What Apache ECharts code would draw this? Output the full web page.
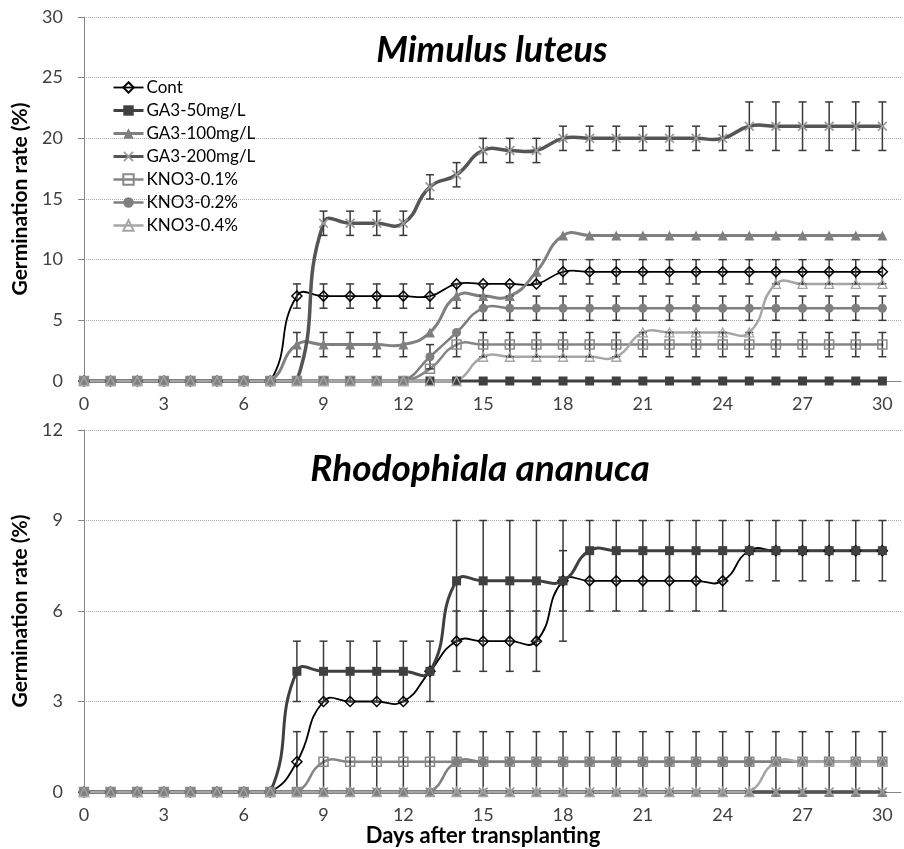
<!DOCTYPE html>
<html><head><meta charset="utf-8">
<script src="https://cdn.jsdelivr.net/npm/echarts@6/dist/echarts.min.js"></script>
<style>html,body{margin:0;padding:0;background:#fff}#c{width:904px;height:849px}</style>
</head><body><div id="c"></div>
<script>
// ---- data ----
const days = [0,1,2,3,4,5,6,7,8,9,10,11,12,13,14,15,16,17,18,19,20,21,22,23,24,25,26,27,28,29,30];
const seriesNames = ['Cont','GA3-50mg/L','GA3-100mg/L','GA3-200mg/L','KNO3-0.1%','KNO3-0.2%','KNO3-0.4%'];
const chartTitles = ['Mimulus luteus','Rhodophiala ananuca'];
const xTitle = 'Days after transplanting';
const yTitle = 'Germination rate (%)';

// Mimulus luteus (top)
const contM  = [0,0,0,0,0,0,0,0,7,7,7,7,7,7,8,8,8,8,9,9,9,9,9,9,9,9,9,9,9,9,9];
const ga50M  = [0,0,0,0,0,0,0,0,0,0,0,0,0,0,0,0,0,0,0,0,0,0,0,0,0,0,0,0,0,0,0];
const ga100M = [0,0,0,0,0,0,0,0,3,3,3,3,3,4,7,7,7,9,12,12,12,12,12,12,12,12,12,12,12,12,12];
const ga200M = [0,0,0,0,0,0,0,0,0,13,13,13,13,16,17,19,19,19,20,20,20,20,20,20,20,21,21,21,21,21,21];
const kno1M  = [0,0,0,0,0,0,0,0,0,0,0,0,0,1,3,3,3,3,3,3,3,3,3,3,3,3,3,3,3,3,3];
const kno2M  = [0,0,0,0,0,0,0,0,0,0,0,0,0,2,4,6,6,6,6,6,6,6,6,6,6,6,6,6,6,6,6];
const kno4M  = [0,0,0,0,0,0,0,0,0,0,0,0,0,0,0,2,2,2,2,2,2,4,4,4,4,4,8,8,8,8,8];
// error bars (null = none)
const contErrM  = [null,null,null,null,null,null,null,null,1,1,1,1,1,1,null,null,null,null,1,1,1,1,1,1,1,1,1,1,1,1,1];
const ga100ErrM = [null,null,null,null,null,null,null,null,1,1,1,1,1,null,1,1,1,1,null,null,null,null,null,null,null,null,null,null,null,null,null];
const ga200ErrM = [null,null,null,null,null,null,null,null,null,1,1,1,1,1,1,1,1,1,1,1,1,1,1,1,1,2,2,2,2,2,2];
const kno1ErrM  = [null,null,null,null,null,null,null,null,null,null,null,null,null,null,1,1,1,1,1,1,1,1,1,1,1,1,1,1,1,1,1];
const kno2ErrM  = [null,null,null,null,null,null,null,null,null,null,null,null,null,1,null,1,1,1,1,1,1,1,1,1,1,1,1,1,1,1,1];

// Rhodophiala ananuca (bottom)
const contR  = [0,0,0,0,0,0,0,0,1,3,3,3,3,4,5,5,5,5,7,7,7,7,7,7,7,8,8,8,8,8,8];
const ga50R  = [0,0,0,0,0,0,0,0,4,4,4,4,4,4,7,7,7,7,7,8,8,8,8,8,8,8,8,8,8,8,8];
const ga100R = [0,0,0,0,0,0,0,0,0,0,0,0,0,0,0,0,0,0,0,0,0,0,0,0,0,0,0,0,0,0,0];
const ga200R = [0,0,0,0,0,0,0,0,0,0,0,0,0,0,0,0,0,0,0,0,0,0,0,0,0,0,0,0,0,0,0];
const kno1R  = [0,0,0,0,0,0,0,0,0,1,1,1,1,1,1,1,1,1,1,1,1,1,1,1,1,1,1,1,1,1,1];
const kno2R  = [0,0,0,0,0,0,0,0,0,0,0,0,0,0,1,1,1,1,1,1,1,1,1,1,1,1,1,1,1,1,1];
const kno4R  = [0,0,0,0,0,0,0,0,0,0,0,0,0,0,0,0,0,0,0,0,0,0,0,0,0,0,1,1,1,1,1];
const contErrR = [null,null,null,null,null,null,null,null,1,null,null,null,null,null,1,1,1,1,1,1,1,1,1,1,1,null,null,null,null,null,null];
const ga50ErrR = [null,null,null,null,null,null,null,null,1,1,1,1,1,1,2,2,2,2,2,1,1,1,1,1,1,1,1,1,1,1,1];
const kno1ErrR = [null,null,null,null,null,null,null,null,null,1,1,1,1,1,1,1,1,1,1,1,1,1,1,1,1,1,1,1,1,1,1];

// ---- styles ----
const FONT = 'Lato';
const NOFILL = 'rgba(255,255,255,0)';
const xPath = 'path://M0,1.2 L1.2,0 L5,3.8 L8.8,0 L10,1.2 L6.2,5 L10,8.8 L8.8,10 L5,6.2 L1.2,10 L0,8.8 L3.8,5 Z';
const styles = [
  {symbol:'diamond', size:10, line:'#000000', lw:1.8, fill:NOFILL, border:'#000000', bw:1.5},
  {symbol:'rect', size:9, line:'#404040', lw:3, fill:'#404040', border:'#404040', bw:0},
  {symbol:'triangle', size:10, line:'#808080', lw:3, fill:'#7f7f7f', border:'#7f7f7f', bw:0},
  {symbol:xPath, size:10, line:'#555555', lw:3.5, fill:'#9a9a9a', border:'#9a9a9a', bw:0},
  {symbol:'rect', size:9, line:'#858585', lw:2.5, fill:NOFILL, border:'#8a8a8a', bw:1.5},
  {symbol:'circle', size:9, line:'#7f7f7f', lw:2.5, fill:'#7f7f7f', border:'#7f7f7f', bw:0},
  {symbol:'triangle', size:9, line:'#a6a6a6', lw:2.5, fill:NOFILL, border:'#a6a6a6', bw:1.3}
];
const TENSION = 0.5;

// markers (line series, its own line hidden) + legend entry
function markerSeries(idx, values, g) {
  const s = styles[idx];
  return {
    type:'line', name: seriesNames[idx], xAxisIndex:g, yAxisIndex:g,
    data: days.map((d,i)=>[d, values[i]]),
    symbol:s.symbol, symbolSize:s.size, showAllSymbol:true,
    lineStyle:{color:s.line, width:0, opacity:0},
    itemStyle:{color:s.fill, borderColor:s.border, borderWidth:s.bw},
    z:4, silent:true
  };
}
// smoothed connecting line (length-weighted cardinal spline, like the spreadsheet's smoothing)
function curveSeries(idx, values, g) {
  const s = styles[idx];
  const n = values.length;
  return {
    type:'custom', xAxisIndex:g, yAxisIndex:g, z:2, silent:true,
    data: days.map((d,i)=>[d, values[i]]),
    renderItem:(params, api)=>{
      const i = params.dataIndexInside;
      if (i >= n - 1) return null;
      const P = k => api.coord([api.value(0, k), api.value(1, k)]);
      const floorY = api.coord([0, 0])[1];
      function cps(k) {
        const pk = P(k);
        const pp = k > 0 ? P(k-1) : pk;
        const pn = k < n - 1 ? P(k+1) : pk;
        const vx = pn[0]-pp[0], vy = pn[1]-pp[1];
        const dP = Math.hypot(pk[0]-pp[0], pk[1]-pp[1]);
        const dN = Math.hypot(pn[0]-pk[0], pn[1]-pk[1]);
        const sum = dP + dN || 1;
        return {
          inn:[pk[0] - vx*TENSION*dP/sum, Math.min(floorY, pk[1] - vy*TENSION*dP/sum)],
          out:[pk[0] + vx*TENSION*dN/sum, Math.min(floorY, pk[1] + vy*TENSION*dN/sum)]
        };
      }
      const p1 = P(i), p2 = P(i+1);
      const c1 = cps(i).out, c2 = cps(i+1).inn;
      return {type:'bezierCurve', shape:{
          x1:p1[0], y1:p1[1], x2:p2[0], y2:p2[1],
          cpx1:c1[0], cpy1:c1[1], cpx2:c2[0], cpy2:c2[1]},
        style:{stroke:s.line, lineWidth:s.lw, fill:null, lineCap:'round'}};
    }
  };
}
function errSeries(values, errs, g) {
  const data = [];
  days.forEach((d,i)=>{ if (errs[i] != null) data.push([d, values[i]-errs[i], values[i]+errs[i]]); });
  return {
    type:'custom', xAxisIndex:g, yAxisIndex:g, data, z:3, silent:true,
    renderItem:(params, api)=>{
      const lo = api.coord([api.value(0), api.value(1)]);
      const hi = api.coord([api.value(0), api.value(2)]);
      const w = 4;
      const st = {stroke:'#3a3a3a', lineWidth:1.5};
      return {type:'group', children:[
        {type:'line', shape:{x1:lo[0], y1:lo[1], x2:hi[0], y2:hi[1]}, style:st},
        {type:'line', shape:{x1:lo[0]-w, y1:lo[1], x2:lo[0]+w, y2:lo[1]}, style:st},
        {type:'line', shape:{x1:hi[0]-w, y1:hi[1], x2:hi[0]+w, y2:hi[1]}, style:st}
      ]};
    }
  };
}

const chart = echarts.init(document.getElementById('c'));
const axisCol = '#868686';
function xAxisCfg(g) {
  return {type:'value', gridIndex:g, min:0, max:30.7, interval:3,
    axisLine:{show:true, onZero:false, lineStyle:{color:axisCol, width:1}},
    axisTick:{show:false}, splitLine:{show:false},
    axisLabel:{margin:14, fontSize:18, color:'#404040', fontFamily:FONT,
      formatter:(v)=> (Math.abs(v % 3) < 1e-9 ? String(v) : '')}};
}
function yAxisCfg(g, max, interval) {
  return {type:'value', gridIndex:g, min:0, max, interval,
    name: yTitle, nameLocation:'middle', nameGap:51,
    nameTextStyle:{fontSize:21, fontWeight:'bold', color:'#000', fontFamily:FONT},
    axisLine:{show:true, lineStyle:{color:axisCol, width:1}},
    axisTick:{show:true, length:6, lineStyle:{color:axisCol}},
    splitLine:{show:true, lineStyle:{color:'#a8a8a8', type:'dotted', width:1}},
    axisLabel:{margin:21, fontSize:18, color:'#404040', fontFamily:FONT}};
}

const tops = [contM, ga50M, ga100M, ga200M, kno1M, kno2M, kno4M];
const bots = [contR, ga50R, ga100R, ga200R, kno1R, kno2R, kno4R];
const series = [];
tops.forEach((v,i)=>series.push(curveSeries(i, v, 0)));
series.push(errSeries(contM, contErrM, 0), errSeries(ga100M, ga100ErrM, 0), errSeries(ga200M, ga200ErrM, 0),
  errSeries(kno1M, kno1ErrM, 0), errSeries(kno2M, kno2ErrM, 0));
tops.forEach((v,i)=>series.push(markerSeries(i, v, 0)));
bots.forEach((v,i)=>series.push(curveSeries(i, v, 1)));
series.push(errSeries(contR, contErrR, 1), errSeries(ga50R, ga50ErrR, 1), errSeries(kno1R, kno1ErrR, 1));
bots.forEach((v,i)=>series.push(markerSeries(i, v, 1)));

chart.setOption({
  animation:false,
  backgroundColor:'#ffffff',
  grid:[
    {left:84, top:17, width:820, height:364},
    {left:84, top:430, width:820, height:362}
  ],
  xAxis:[xAxisCfg(0), xAxisCfg(1)],
  yAxis:[yAxisCfg(0, 30, 5), yAxisCfg(1, 12, 3)],
  legend:{orient:'vertical', left:112, top:79, itemWidth:30, itemHeight:13, itemGap:6, padding:0,
    selectedMode:false,
    data: seriesNames.map((nm,i)=>({name:nm, lineStyle:{color:styles[i].line, width:Math.min(styles[i].lw,3), opacity:1}})),
    textStyle:{fontSize:17, color:'#000', fontFamily:FONT, padding:[0,0,0,-2]}},
  graphic:[
    {type:'text', x:492, y:50, style:{text:chartTitles[0], align:'center', verticalAlign:'middle',
      fontSize:36, fontWeight:'bold', fontStyle:'italic', fontFamily:FONT, fill:'#000'}},
    {type:'text', x:480, y:469, style:{text:chartTitles[1], align:'center', verticalAlign:'middle',
      fontSize:37, fontWeight:'bold', fontStyle:'italic', fontFamily:FONT, fill:'#000'}},
    {type:'text', x:483, y:836, style:{text:xTitle, align:'center', verticalAlign:'middle',
      fontSize:22, fontWeight:'bold', fontFamily:FONT, fill:'#000'}}
  ],
  series
});
</script></body></html>
